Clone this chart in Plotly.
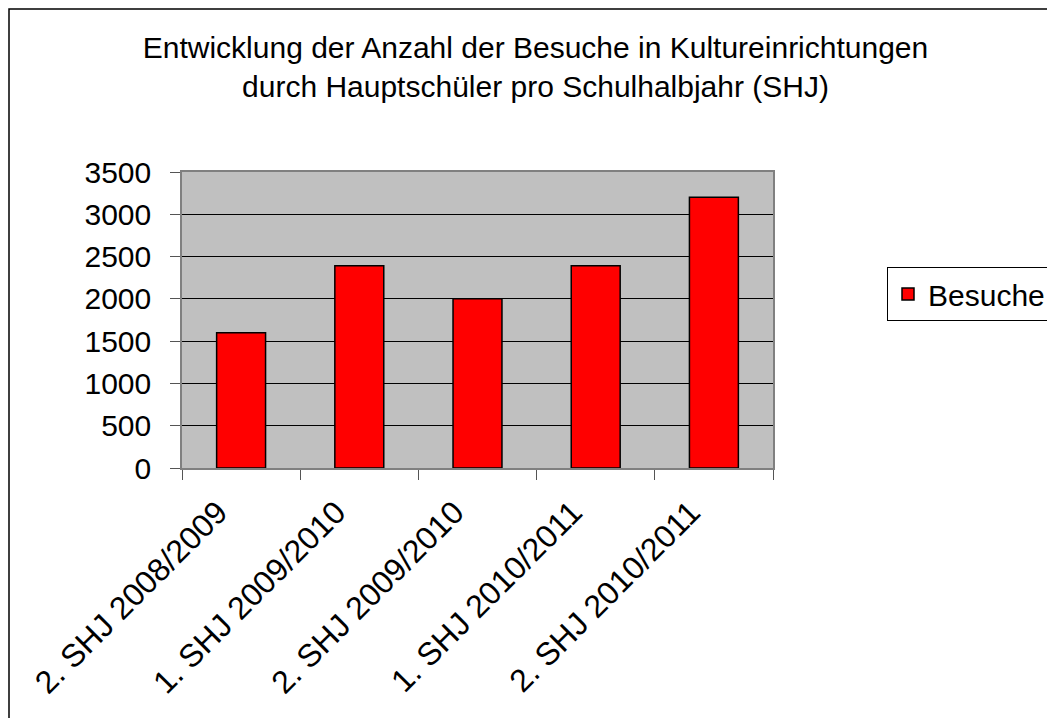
import plotly.graph_objects as go

categories = ["2. SHJ 2008/2009", "1. SHJ 2009/2010", "2. SHJ 2009/2010",
              "1. SHJ 2010/2011", "2. SHJ 2010/2011"]
besuche = [1600, 2390, 2000, 2390, 3200]
series_name = "Besuche"
title_lines = ["Entwicklung der Anzahl der Besuche in Kultureinrichtungen",
               "durch Hauptschüler pro Schulhalbjahr (SHJ)"]
y_ticks = [0, 500, 1000, 1500, 2000, 2500, 3000, 3500]

FONT = "Liberation Sans, Arial, sans-serif"
W, H = 1055, 718
OFF = 8  # page body margin
L, R, T, B = 182 - OFF, 773 - OFF, 172 - OFF, 468 - OFF

fig = go.Figure()
fig.add_trace(go.Bar(
    x=categories, y=besuche, name=series_name,
    marker=dict(color="#FF0000", line=dict(color="#000000", width=1.5)),
    showlegend=True,
))

def px_x(p):
    return (p - OFF - L) / (R - L)

def px_y(p):
    return (B - (p - OFF)) / (B - T)

fig.update_layout(
    width=W, height=H,
    margin=dict(l=L, r=W - R, t=T, b=H - B, autoexpand=False),
    paper_bgcolor="white",
    plot_bgcolor="#C0C0C0",
    font=dict(family=FONT, color="black", size=30),
    title=dict(
        text="<br>".join(title_lines),
        x=(535.5 - OFF) / W, xanchor="center", xref="container",
        y=1 - 50 / H, yanchor="middle", yref="container",
        font=dict(size=30, family=FONT, color="black"),
    ),
    bargap=0.586,
    showlegend=True,
    legend=dict(
        x=px_x(887), xanchor="left",
        y=px_y(294), yanchor="middle",
        bordercolor="black", borderwidth=1,
        bgcolor="white",
        font=dict(size=30, family=FONT, color="black"),
    ),
    xaxis=dict(
        type="category",
        tickson="boundaries",
        ticks="outside", ticklen=10, tickcolor="#555555", tickwidth=1,
        tickangle=-45,
        ticklabelshift=-23,
        ticklabelstandoff=11,
        showline=True, mirror=True, linecolor="#808080", linewidth=1.5,
        showgrid=False,
        tickfont=dict(size=32, family=FONT),
    ),
    yaxis=dict(
        range=[0, 3500],
        tickvals=y_ticks,
        ticks="outside", ticklen=10, tickcolor="#555555", tickwidth=1,
        ticklabelstandoff=13,
        showline=True, mirror=True, linecolor="#808080", linewidth=1.5,
        showgrid=True, gridcolor="#000000", gridwidth=1,
        zeroline=False,
        tickfont=dict(size=30, family=FONT),
    ),
    shapes=[dict(
        type="rect", xref="paper", yref="paper",
        x0=px_x(9), x1=px_x(1075), y0=px_y(9), y1=px_y(740),
        line=dict(color="black", width=1.5), fillcolor="rgba(0,0,0,0)",
        layer="below",
    )],
)

fig.write_html("out.html")
